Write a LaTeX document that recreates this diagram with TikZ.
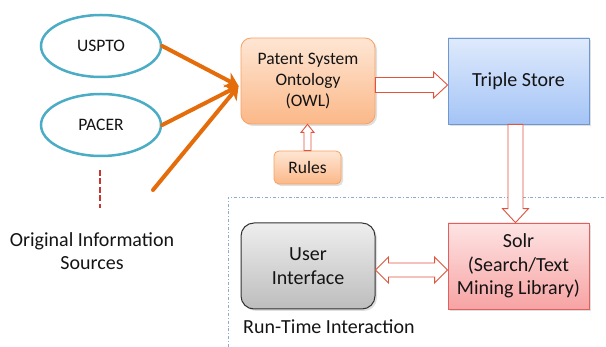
\documentclass[tikz,border=0pt]{standalone}
\usepackage{fontspec}
\setmainfont{Carlito}
\usetikzlibrary{arrows.meta,calc,shadows,shapes.geometric}
\definecolor{aqua}{HTML}{4BACC6}
\definecolor{orng}{HTML}{E46C0A}
\definecolor{hollowred}{HTML}{E0533D}
\definecolor{frameblue}{HTML}{8EAACC}
\definecolor{dashred}{HTML}{C8372D}
\definecolor{ontotop}{HTML}{FEE6D4}
\definecolor{ontobot}{HTML}{FBB888}
\definecolor{ontoline}{HTML}{F7A262}
\definecolor{tstop}{HTML}{DFEAFC}
\definecolor{tsbot}{HTML}{A4C4F6}
\definecolor{tsline}{HTML}{7098D0}
\definecolor{sotop}{HTML}{FEE4E4}
\definecolor{sobot}{HTML}{F7A3A3}
\definecolor{soline}{HTML}{E06060}
\definecolor{uitop}{HTML}{EEEEEE}
\definecolor{uibot}{HTML}{BDBDBD}
\definecolor{txt}{HTML}{141414}
\tikzset{
  src/.style={ellipse,draw=aqua,line width=2.5pt,fill=white,minimum width=120pt,minimum height=62pt,inner sep=0pt,font=\fontsize{17.5}{20}\selectfont,text=txt},
  box/.style={minimum width=#1,minimum height=86pt,inner sep=2pt,align=center,text=txt,
     drop shadow={opacity=0.25,shadow xshift=2pt,shadow yshift=-2pt}},
  orangebox/.style={draw=ontoline,line width=0.8pt,top color=ontotop,bottom color=ontobot},
  feed/.style={draw=orng,line width=4pt,-{Stealth[length=13pt,width=16pt,inset=4pt]},line cap=round},
  hollow/.style={draw=hollowred,fill=white,line width=0.9pt,line join=miter},
  lbl/.style={font=\fontsize{20}{23}\selectfont,align=center,inner sep=0pt,text=txt},
}
\begin{document}
\begin{tikzpicture}[x=1pt,y=-1pt]
\useasboundingbox (0,0) rectangle (606,347);
% frame
\draw[frameblue,line width=0.8pt,dash dot] (228,347) -- (228,197) -- (606,197);
% sources
\node[src] (uspto) at (101,46) {USPTO};
\node[src] (pacer) at (101,125) {PACER};
\coordinate (dtop) at (100,170);
\coordinate (dbot) at (100,208);
\draw[dashred,line width=2.5pt,dash pattern=on 6pt off 2.5pt] (dtop) -- (dbot);
\node[lbl] (srclbl) at (92,251) {Original Information\\Sources};
\coordinate (third) at (153,190);
% boxes
\node[box=134pt,orangebox,rounded corners=10pt,font=\fontsize{17.5}{21}\selectfont] (onto) at (308,81) {Patent System\\Ontology\\(OWL)};
\node[orangebox,rounded corners=5pt,minimum width=67pt,minimum height=33pt,inner sep=0pt,text=txt,font=\fontsize{17.5}{20}\selectfont,drop shadow={opacity=0.25,shadow xshift=2pt,shadow yshift=-2pt}] (rules) at (307.5,167.5) {Rules};
\node[box=141pt,draw=tsline,line width=0.8pt,top color=tstop,bottom color=tsbot,font=\fontsize{20}{23}\selectfont] (triple) at (518.5,81) {Triple Store};
\node[box=134pt,draw=black!80,line width=1pt,rounded corners=13pt,top color=uitop,bottom color=uibot,font=\fontsize{20}{24.5}\selectfont] (ui) at (308,266) {User\\Interface};
\node[box=141pt,draw=soline,line width=0.8pt,top color=sotop,bottom color=sobot,font=\fontsize{20}{23.5}\selectfont] (solr) at (518.5,266) {Solr\\(Search/Text\\Mining Library)};
\node[lbl,anchor=west] (rti) at (243,327) {Run-Time Interaction};
% orange feed arrows
\draw[feed] (uspto.east) -- ($(onto.west)+(-2,5)$);
\draw[feed] (pacer.east) -- ($(onto.west)+(-2,5)$);
\draw[feed] (third) -- ($(onto.west)+(-2,5)$);
% hollow arrows
\draw[hollow] let \p1=(onto.east), \p2=(triple.west) in
  (\x1,\y1+3.5pt) -- (\x2-14pt,\y1+3.5pt) -- (\x2-14pt,\y1+9pt) -- (\x2,\y1-4pt)
  -- (\x2-14pt,\y1-17pt) -- (\x2-14pt,\y1-11.5pt) -- (\x1,\y1-11.5pt) -- cycle;
\draw[hollow] let \p1=(triple.south), \p2=(solr.north) in
  (\x1-10.5pt,\y1) -- (\x1-10.5pt,\y2+14pt) -- (\x1-16pt,\y2+14pt) -- (\x1-3pt,\y2)
  -- (\x1+10pt,\y2+14pt) -- (\x1+4.5pt,\y2+14pt) -- (\x1+4.5pt,\y1) -- cycle;
\draw[hollow] let \p1=(rules.north), \p2=(onto.south) in
  (\x1-3.5pt,\y1) -- (\x1-3.5pt,\y2-8pt) -- (\x1-6.5pt,\y2-8pt) -- (\x1,\y2)
  -- (\x1+6.5pt,\y2-8pt) -- (\x1+3.5pt,\y2-8pt) -- (\x1+3.5pt,\y1) -- cycle;
\draw[hollow] let \p1=(ui.east), \p2=(solr.west) in
  (\x1,\y1-4pt) -- (\x1+13pt,\y1+9pt) -- (\x1+13pt,\y1+3pt) -- (\x2-13pt,\y1+3pt)
  -- (\x2-13pt,\y1+9pt) -- (\x2,\y1-4pt) -- (\x2-13pt,\y1-17pt) -- (\x2-13pt,\y1-11pt)
  -- (\x1+13pt,\y1-11pt) -- (\x1+13pt,\y1-17pt) -- cycle;
\end{tikzpicture}
\end{document}
